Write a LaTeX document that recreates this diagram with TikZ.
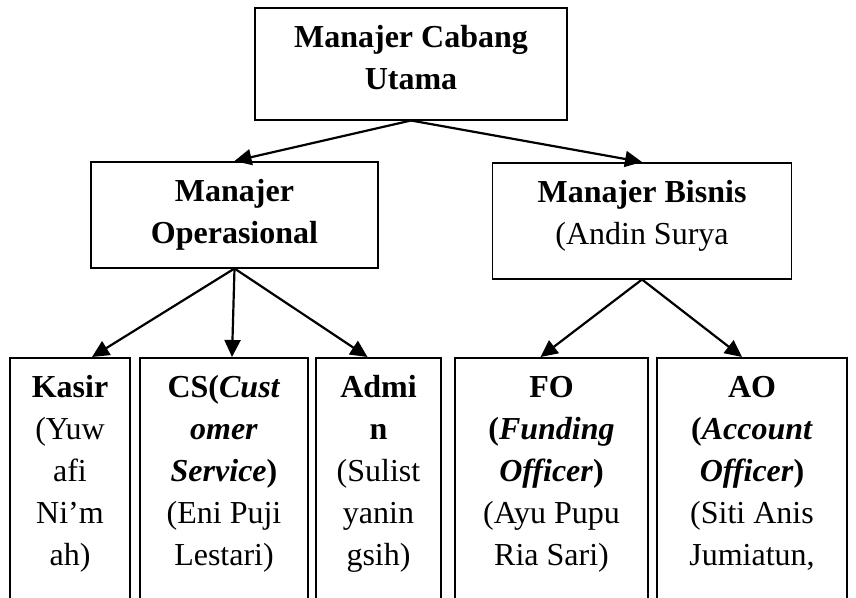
\documentclass[tikz,border=0pt]{standalone}
\usepackage{fontspec}
\setmainfont{Liberation Serif}
\usetikzlibrary{arrows.meta}

\begin{document}
\begin{tikzpicture}[x=1pt, y=-1pt,
    box/.style={draw, line width=1.5pt, inner sep=0pt, anchor=north, align=flush center,
        text height=40pt, font=\fontsize{32}{42}\selectfont},
    link/.style={line width=2.2pt, -{Triangle[length=17pt, width=16pt]}}]
    \useasboundingbox (0,0) rectangle (856,597);
    \clip (0,0) rectangle (856,597); % the lower boxes run off the page

    % top level
    \node[box, text width=312pt, text depth=72pt] (cabang) at (411,7)
        {\textbf{Manajer Cabang}\\\textbf{Utama}};

    % second level
    \node[box, text width=287pt, text depth=66pt] (ops) at (234.5,161)
        {\textbf{Manajer}\\\textbf{Operasional}};
    \node[box, text width=299pt, text depth=76pt] (bisnis) at (642,162)
        {\textbf{Manajer Bisnis}\\(Andin Surya};

    % staff
    \node[box, text width=120pt, text depth=260pt] (kasir) at (70,357)
        {\textbf{Kasir}\\(Yuw\\afi\\Ni’m\\ah)};
    \node[box, text width=168pt, text depth=260pt] (cs) at (224,357)
        {\textbf{CS(\textit{Cust}}\\\textbf{\textit{omer}}\\\textbf{\textit{Service})}\\(Eni Puji\\Lestari)};
    \node[box, text width=125pt, text depth=260pt] (admin) at (378.5,357)
        {\textbf{Admi}\\\textbf{n}\\(Sulist\\yanin\\gsih)};
    \node[box, text width=193pt, text depth=260pt] (fo) at (551.5,357)
        {\textbf{FO}\\\textbf{(\textit{Funding}}\\\textbf{\textit{Officer})}\\(Ayu Pupu\\Ria Sari)};
    \node[box, text width=190pt, text depth=260pt] (ao) at (752,357)
        {\textbf{AO}\\\textbf{(\textit{Account}}\\\textbf{\textit{Officer})}\\(Siti Anis\\Jumiatun,};

    \draw[link] (cabang.south) -- (ops.north);
    \draw[link] (cabang.south) -- (bisnis.north);
    \foreach \n/\s in {kasir/22, cs/8, admin/-11} % edit here for the tips
        \draw[link] (ops.south) -- ([xshift=\s pt]\n.north);
    \foreach \n/\s in {fo/-11, ao/-10}
        \draw[link] (bisnis.south) -- ([xshift=\s pt]\n.north);
\end{tikzpicture}
\end{document}
